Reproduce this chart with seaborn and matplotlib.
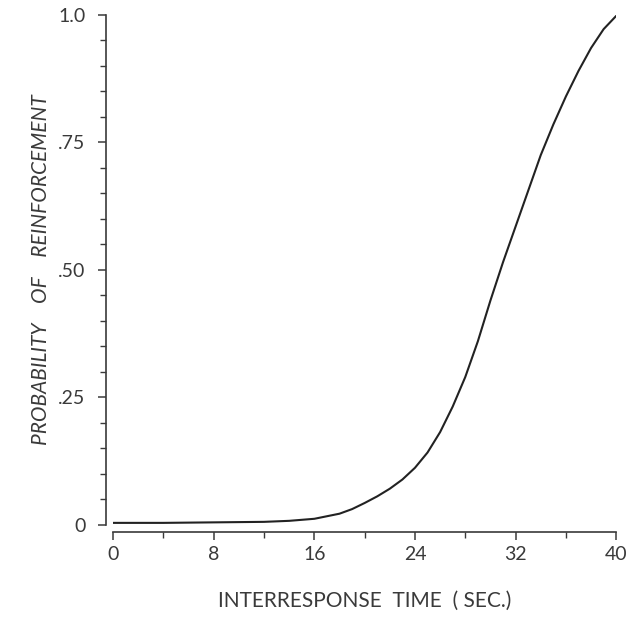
import matplotlib
matplotlib.use("Agg")
import matplotlib.pyplot as plt
from matplotlib.ticker import MultipleLocator, FixedLocator
import seaborn as sns
import pandas as pd

# values
irt_sec = [0, 4, 8, 12, 14, 16, 18, 19, 20, 21, 22, 23, 24, 25, 26, 27, 28,
           29, 30, 31, 32, 33, 34, 35, 36, 37, 38, 39, 40]
prob_reinf = [0.004, 0.004, 0.005, 0.006, 0.008, 0.012, 0.022, 0.031, 0.043,
              0.056, 0.071, 0.089, 0.112, 0.142, 0.182, 0.232, 0.29, 0.36,
              0.44, 0.515, 0.585, 0.655, 0.725, 0.785, 0.84, 0.89, 0.935,
              0.972, 0.998]

x_ticks = [0, 8, 16, 24, 32, 40]
y_ticks = [0, 0.25, 0.50, 0.75, 1.0]
y_ticklabels = ["0", ".25", ".50", ".75", "1.0"]

df = pd.DataFrame({"irt": irt_sec, "p": prob_reinf})

sns.set_style("ticks")
plt.rcParams["font.family"] = ["Lato", "DejaVu Sans"]
ink = "#3a3a3a"

fig = plt.figure(figsize=(6.32, 6.19), dpi=100)
ax = fig.add_axes([0.179, 0.152, 0.796, 0.824])

sns.lineplot(data=df, x="irt", y="p", color="#222222", linewidth=1.5, ax=ax)

ax.set_xlim(0, 40)
ax.set_ylim(0, 1.0)

ax.xaxis.set_major_locator(FixedLocator(x_ticks))
ax.xaxis.set_minor_locator(MultipleLocator(4))
ax.yaxis.set_major_locator(FixedLocator(y_ticks))
ax.yaxis.set_minor_locator(MultipleLocator(0.05))
ax.set_xticklabels([str(t) for t in x_ticks])
ax.set_yticklabels(y_ticklabels)

ax.tick_params(axis="both", which="major", length=6, width=1.1, colors=ink,
               labelsize=14, labelcolor=ink)
ax.tick_params(axis="both", which="minor", length=4, width=1.0, colors=ink)
ax.tick_params(axis="y", which="major", pad=9)
ax.tick_params(axis="x", which="major", pad=4)

sns.despine(ax=ax)
ax.spines["left"].set_position(("outward", 5))
ax.spines["bottom"].set_position(("outward", 5))
for s in ["left", "bottom"]:
    ax.spines[s].set_color(ink)
    ax.spines[s].set_linewidth(1.2)

ax.set_xlabel("INTERRESPONSE  TIME  ( SEC.)", fontsize=15, color=ink, labelpad=20)
ax.set_ylabel("PROBABILITY    OF    REINFORCEMENT", fontsize=15, color=ink,
              style="italic", labelpad=5)

fig.savefig("out.png", dpi=100, facecolor="white")
